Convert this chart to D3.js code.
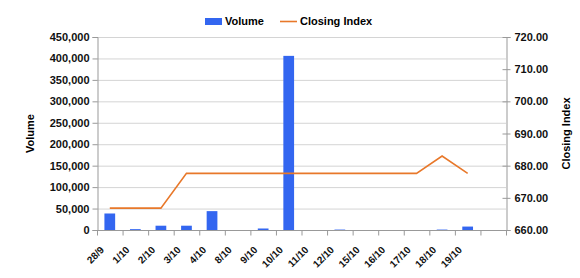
<!DOCTYPE html>
<html>
<head>
<meta charset="utf-8">
<script src="https://cdn.jsdelivr.net/npm/d3@7"></script>
<style>
  body { margin: 0; background: #fff; }
  svg { font-family: "Liberation Sans", Arial, sans-serif; }
</style>
</head>
<body>
<div class="chart"></div>
<script>
// data
const dates = ["28/9", "1/10", "2/10", "3/10", "4/10", "8/10", "9/10", "10/10",
  "11/10", "12/10", "15/10", "16/10", "17/10", "18/10", "19/10", ""];
const volume = [38500, 2000, 10000, 10000, 44000, 0, 3500, 406000,
  0, 1000, 0, 0, 0, 1000, 8000, null];
const closing = [666.8, 666.8, 666.8, 677.6, 677.6, 677.6, 677.6, 677.6,
  677.6, 677.6, 677.6, 677.6, 677.6, 683.0, 677.6, null];
const volTicks = d3.range(0, 450001, 50000);
const idxTicks = d3.range(660, 720.1, 10);

const width = 580, height = 278;
const margin = {top: 37, right: 74, bottom: 48, left: 97};

const svg = d3.select(".chart").append("svg")
    .attr("width", width)
    .attr("height", height)
    .attr("viewBox", [0, 0, width, height]);

const x = d3.scaleBand()
    .domain(d3.range(dates.length))
    .range([margin.left, width - margin.right]);

const yVol = d3.scaleLinear()
    .domain([0, 450000])
    .range([height - margin.bottom, margin.top]);

const yIdx = d3.scaleLinear()
    .domain([660, 720])
    .range([height - margin.bottom, margin.top]);

// gridlines
svg.append("g")
    .attr("stroke", "#d4d4d4")
    .selectAll("line")
    .data(volTicks.slice(1))
    .join("line")
    .attr("x1", margin.left)
    .attr("x2", width - margin.right)
    .attr("y1", d => yVol(d) + 0.5)
    .attr("y2", d => yVol(d) + 0.5);

// bars
const barW = x.bandwidth() * 0.42;
svg.append("g")
    .attr("fill", "#3366f0")
    .selectAll("rect")
    .data(volume.map((v, i) => [i, v]).filter(d => d[1] != null && d[1] > 0))
    .join("rect")
    .attr("x", d => x(d[0]) + (x.bandwidth() - barW) / 2)
    .attr("width", barW)
    .attr("y", d => yVol(d[1]))
    .attr("height", d => yVol(0) - yVol(d[1]));

// closing index line
const line = d3.line()
    .defined(d => d[1] != null)
    .x(d => x(d[0]) + x.bandwidth() / 2)
    .y(d => yIdx(d[1]));

svg.append("path")
    .attr("fill", "none")
    .attr("stroke", "#e8782a")
    .attr("stroke-width", 1.6)
    .attr("d", line(closing.map((v, i) => [i, v])));

// axes
const axisStyle = g => {
  g.selectAll(".domain").attr("stroke", "#999");
  g.selectAll(".tick line").attr("stroke", "#999");
  g.selectAll("text").attr("font-size", 11).attr("font-weight", "bold").attr("fill", "#111");
};

svg.append("g")
    .attr("transform", `translate(${margin.left + 0.5},0)`)
    .call(d3.axisLeft(yVol).tickValues(volTicks).tickSizeOuter(0).tickSize(5).tickFormat(d3.format(",")))
    .call(axisStyle);

svg.append("g")
    .attr("transform", `translate(${width - margin.right + 0.5},0)`)
    .call(d3.axisRight(yIdx).tickValues(idxTicks).tickSizeOuter(0).tickSize(4).tickFormat(d3.format(".2f")))
    .call(axisStyle)
    .call(g => g.selectAll(".tick line").attr("x1", -4))
    .call(g => g.selectAll(".tick text").attr("x", 8));

const xAxis = svg.append("g")
    .attr("transform", `translate(0,${height - margin.bottom + 0.5})`);
xAxis.append("line")
    .attr("x1", margin.left)
    .attr("x2", width - margin.right)
    .attr("stroke", "#999");
xAxis.selectAll(".tk")
    .data(d3.range(dates.length + 1))
    .join("line")
    .attr("x1", i => margin.left + i * x.step() + 0.5)
    .attr("x2", i => margin.left + i * x.step() + 0.5)
    .attr("y1", 0)
    .attr("y2", 5)
    .attr("stroke", "#999");
xAxis.selectAll("text")
    .data(dates.map((d, i) => [i, d]).filter(d => d[1]))
    .join("text")
    .attr("transform", d => `translate(${x(d[0]) + x.bandwidth() / 2 - 10},15) rotate(-45)`)
    .attr("text-anchor", "end")
    .attr("dy", "0.7em")
    .attr("font-size", 10)
    .attr("font-weight", "bold")
    .attr("fill", "#111")
    .text(d => d[1]);

// axis titles
svg.append("text")
    .attr("transform", `translate(34,${(margin.top + height - margin.bottom) / 2}) rotate(-90)`)
    .attr("text-anchor", "middle")
    .attr("font-size", 11)
    .attr("font-weight", "bold")
    .text("Volume");

svg.append("text")
    .attr("transform", `translate(570,${(margin.top + height - margin.bottom) / 2}) rotate(-90)`)
    .attr("text-anchor", "middle")
    .attr("font-size", 11)
    .attr("font-weight", "bold")
    .text("Closing Index");

// legend
const legend = svg.append("g").attr("font-size", 11).attr("font-weight", "bold");
legend.append("rect")
    .attr("x", 205).attr("y", 18).attr("width", 17).attr("height", 7)
    .attr("fill", "#3366f0");
legend.append("text").attr("x", 225).attr("y", 25).text("Volume");
legend.append("line")
    .attr("x1", 280).attr("x2", 297).attr("y1", 21.5).attr("y2", 21.5)
    .attr("stroke", "#e8782a").attr("stroke-width", 1.6);
legend.append("text").attr("x", 300).attr("y", 25).text("Closing Index");
</script>
</body>
</html>
